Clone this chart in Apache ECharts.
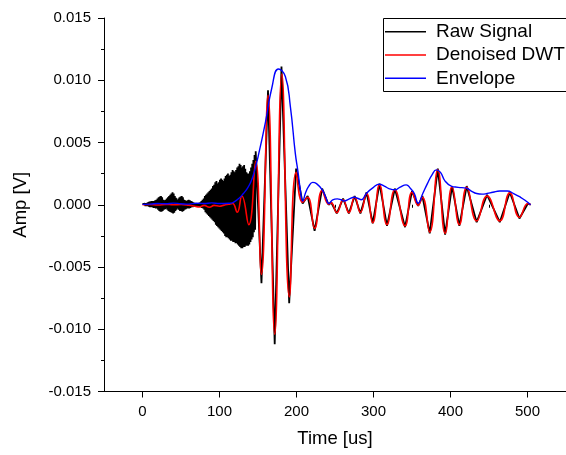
<!DOCTYPE html>
<html>
<head>
<meta charset="utf-8">
<script src="https://cdn.jsdelivr.net/npm/echarts@6/dist/echarts.min.js"></script>
<style>html,body{margin:0;padding:0;background:#fff;}#c{width:566px;height:455px;}</style>
</head>
<body>
<div id="c"></div>
<script>
// ---- data ----
const seriesNames = ['Raw Signal', 'Denoised DWT', 'Envelope'];
const xTickLabels = [0, 100, 200, 300, 400, 500];
const yTickLabels = [-0.015, -0.010, -0.005, 0.000, 0.005, 0.010, 0.015];

// raw signal, early dense part: sampled every 0.75 us from t = 0
const rawEarlyStep = 0.75;
const rawEarly = [
  0.00005,-0.00005,0.00006,-0.00005, 0.0001,-0.0001,0.00012,-0.0001,
  0.00015,-0.0001,0.0002,-0.00015, 0.00025,-0.0002,0.00028,-0.0002,
  0.0003,-0.0002,0.0003,-0.00025, 0.0003,-0.00025,0.00035,-0.0003,
  0.0004,-0.0003,0.0005,-0.0004, 0.0006,-0.0005,0.00065,-0.00055,
  0.0007,-0.00055,0.0006,-0.0005, 0.0004,-0.0004,0.00035,-0.00035,
  0.0004,-0.0003,0.0005,-0.0004, 0.0006,-0.0005,0.0007,-0.00055,
  0.0008,-0.0006,0.0009,-0.00065, 0.001,-0.0007,0.0009,-0.00065,
  0.0007,-0.0005,0.00055,-0.0004, 0.0004,-0.0003,0.0005,-0.0004,
  0.0006,-0.0005,0.00065,-0.0005, 0.0007,-0.00055,0.0006,-0.0005,
  0.0004,-0.0004,0.00035,-0.00035, 0.0003,-0.0003,0.00035,-0.0003,
  0.0004,-0.0003,0.00035,-0.00025, 0.0003,-0.0002,0.00025,-0.0002,
  0.0002,-0.00015,0.00015,-0.00012, 0.0001,-0.0001,0.0001,-0.0001,
  0.0001,-0.0001,0.00015,-0.00015, 0.0002,-0.0002,0.0003,-0.00025,
  0.0004,-0.0003,0.0005,-0.0004, 0.0007,-0.0006,0.0008,-0.0007,
  0.0009,-0.0008,0.001,-0.0009, 0.0011,-0.001,0.0012,-0.0011,
  0.0013,-0.0012,0.0015,-0.0013, 0.0016,-0.0014,0.0018,-0.0016,
  0.0019,-0.0017,0.0017,-0.0018, 0.0018,-0.0019,0.002,-0.002,
  0.0021,-0.0021,0.002,-0.0022, 0.0019,-0.0023,0.0021,-0.0025,
  0.0023,-0.0026,0.0024,-0.0026, 0.0025,-0.0027,0.0023,-0.0028,
  0.0024,-0.0029,0.0026,-0.0029, 0.0028,-0.003,0.0027,-0.003,
  0.0026,-0.0031,0.0028,-0.0031, 0.003,-0.0032,0.0031,-0.0033,
  0.0033,-0.0034,0.0032,-0.0035, 0.003,-0.0035,0.0031,-0.0034,
  0.0032,-0.0034,0.0029,-0.0033, 0.0026,-0.0033,0.0025,-0.0033,
  0.0025,-0.0032,0.0027,-0.003, 0.003,-0.0028,0.0033,-0.0026,
  0.0036,-0.0022,0.004,-0.002
];
// raw signal, later part: [time us, amplitude V]
const rawLate = [
  [147,0.0043],[154.5,-0.0063],[163,0.0092],[171.7,-0.0112],[180.5,0.0111],
  [190.5,-0.0079],[199.5,0.0029],[208,0.0001],[214.5,0.0007],[223.5,-0.0021],
  [233.3,0.0013],[241.7,0],[245,0.0002],[252.3,-0.0007],[260.5,0.0005],
  [268,-0.0007],[275.5,0.0007],[283,-0.0007],[291,0.001],[299,-0.0015],
  [307.8,0.0017],[317.5,-0.0017],[327.7,0.0013],[341,-0.0018],[350,0.0011],
  [358,-0.0001],[363.5,0.0007],[373,-0.0023],[383.5,0.0029],[393,-0.0024],
  [402,0.0015],[411.5,-0.0017],[421,0.0015],[434,-0.0014],[447.5,0.0008],
  [464,-0.0014],[477,0.001],[489.5,-0.0011],[500.5,0.0001],[504,0]
];
// denoised DWT: [time us, amplitude V]
const denoised = [
  [0,0],[10,0.00002],[20,-0.00002],[30,0.00003],[40,0],[50,0.00002],[60,-0.00003],
  [68,-0.00012],[74,-0.00018],[80,-0.00005],[87,-0.0002],[93,-0.00005],[100,-0.00012],
  [106,-0.00003],[112,0.00005],[117,0.0001],[123,-0.0006],[129,0.0007],[138,-0.0016],
  [147,0.0035],[154.5,-0.0056],[163,0.0088],[171.7,-0.0104],[181,0.0105],[190.7,-0.0074],
  [199.5,0.0026],[208,0.0002],[214.5,0.0006],[223.5,-0.0019],[233.3,0.00115],
  [241.7,0.00005],[245,0.00015],[252.3,-0.00063],[260.5,0.0004],[268,-0.00063],
  [275.5,0.0006],[283,-0.00062],[291,0.0009],[299,-0.00145],[307.8,0.0016],
  [317.5,-0.0016],[327.7,0.0012],[341,-0.0017],[350,0.001],[358,-0.00005],
  [363.5,0.0006],[373,-0.0022],[383.5,0.0028],[393,-0.0023],[402,0.00145],
  [411.5,-0.0016],[421,0.0014],[434,-0.0013],[447.5,0.0007],[464,-0.0013],
  [477,0.00095],[489.5,-0.001],[500.5,0.0001],[504,0]
];
// envelope: [time us, amplitude V]
const envelope = [
  [0,0.00003],[10,0.00005],[20,0.0001],[30,0.00008],[40,0.00013],[50,0.00008],
  [60,0.00005],[70,0.00012],[80,0.0001],[90,0.00015],[100,0.0001],[112,0.00012],
  [118,0.0002],[125,0.0005],[131,0.0009],[136,0.0013],[140.5,0.0018],[144.5,0.0025],
  [151,0.0041],[159.6,0.0066],[168,0.0094],[176.5,0.0109],[185.5,0.0103],[192,0.0079],
  [198.5,0.0041],[201.8,0.0027],[205,0.0012],[208,0.0003],[212,0.001],[216,0.0015],
  [221,0.0018],[226,0.0017],[233.5,0.0012],[238,0.0006],[242,0.0001],[247,0.0004],
  [253,0.00047],[258,0.0004],[262,0.0003],[268,0.00045],[275,0.0006],[280,0.0005],
  [284,0.0004],[291,0.00093],[300,0.0014],[307.5,0.00165],[314,0.0015],[320,0.0013],
  [328,0.0012],[334,0.0014],[342.5,0.0016],[348,0.0013],[353,0.0009],[358,0.00013],
  [364,0.0009],[370,0.0017],[376,0.0024],[381.7,0.0028],[387,0.0026],[393,0.0019],
  [401,0.0015],[410,0.0014],[420.5,0.00133],[427,0.0011],[434,0.0009],[441,0.00085],
  [447.5,0.0009],[455,0.001],[464,0.0011],[473.7,0.0011],[482,0.0009],[491,0.0006],
  [498,0.0003],[504,0]
];
const xMinorTicks = [-50, 50, 150, 250, 350, 450, 550];

// ---- build ----
const rawData = rawEarly.map((v, i) => [i * rawEarlyStep, v]).concat(rawLate);
const FONT = '"Liberation Sans", Arial, sans-serif';
const chart = echarts.init(document.getElementById('c'), null, {renderer: 'canvas'});
const axisLineStyle = {color: '#000', width: 1};
chart.setOption({
  animation: false,
  backgroundColor: '#fff',
  grid: {left: 104, top: 18, width: 464.6, height: 373.5, containLabel: false},
  legend: {
    orient: 'vertical', left: 384, top: 18,
    data: seriesNames.map(n => ({name: n, icon: 'rect'})),
    itemWidth: 41, itemHeight: 1.6, itemGap: 2.3,
    padding: [3.2, 2, 3.2, 1],
    borderWidth: 0,
    textStyle: {fontFamily: FONT, fontSize: 19, color: '#000', lineHeight: 21, padding: [0, 0, 0, 5]}
  },
  graphic: [{
    type: 'rect', silent: true, z: 10,
    shape: {x: 383.5, y: 18.5, width: 220, height: 73},
    style: {fill: 'none', stroke: '#000', lineWidth: 1}
  }],
  xAxis: [{
    type: 'value', min: -50, max: 550,
    name: 'Time [us]', nameLocation: 'middle', nameGap: 38,
    nameTextStyle: {fontFamily: FONT, fontSize: 18.5, color: '#000'},
    axisLine: {onZero: false, lineStyle: axisLineStyle},
    axisTick: {show: true, inside: false, length: 6, lineStyle: axisLineStyle, customValues: xTickLabels},
    axisLabel: {fontFamily: FONT, fontSize: 15, color: '#000', margin: 13, customValues: xTickLabels},
    splitLine: {show: false}
  }, {
    type: 'value', min: -50, max: 550, position: 'bottom',
    axisLine: {show: false},
    axisTick: {show: true, inside: false, length: 3, lineStyle: axisLineStyle, customValues: xMinorTicks},
    axisLabel: {show: false},
    splitLine: {show: false}
  }],
  yAxis: {
    type: 'value', min: -0.015, max: 0.015, interval: 0.005,
    name: 'Amp [V]', nameLocation: 'middle', nameGap: 74, nameRotate: 90,
    nameTextStyle: {fontFamily: FONT, fontSize: 18.5, color: '#000'},
    axisLine: {show: true, onZero: false, lineStyle: axisLineStyle},
    axisTick: {show: true, inside: false, length: 6, lineStyle: axisLineStyle},
    minorTick: {show: true, splitNumber: 2, length: 3, lineStyle: axisLineStyle},
    axisLabel: {fontFamily: FONT, fontSize: 15, color: '#000', margin: 13,
      formatter: v => v.toFixed(3)},
    splitLine: {show: false}
  },
  series: [
    {name: seriesNames[0], type: 'line', data: rawData, showSymbol: false, smooth: false,
      color: '#000', lineStyle: {color: '#000', width: 1.8}, z: 1},
    {name: seriesNames[1], type: 'line', data: denoised, showSymbol: false, smooth: 0.5,
      color: '#ff0000', lineStyle: {color: '#ff0000', width: 1.6}, z: 2},
    {name: seriesNames[2], type: 'line', data: envelope, showSymbol: false, smooth: 0.5,
      color: '#0000ff', lineStyle: {color: '#0000ff', width: 1.4}, z: 3}
  ]
});
</script>
</body>
</html>
